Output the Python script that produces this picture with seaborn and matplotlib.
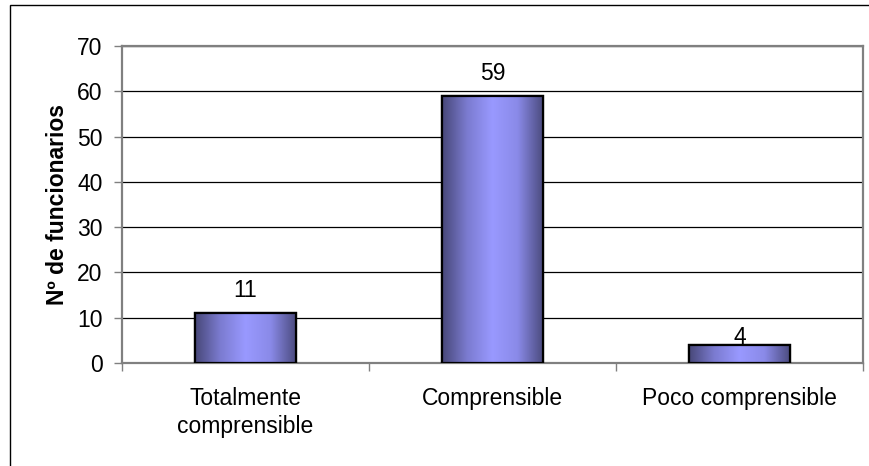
import numpy as np
import pandas as pd
import matplotlib
matplotlib.use("Agg")
import matplotlib.pyplot as plt
from matplotlib.colors import LinearSegmentedColormap
from matplotlib.patches import Rectangle
import seaborn as sns

categories = ["Totalmente\ncomprensible", "Comprensible", "Poco comprensible"]
values = [11, 59, 4]
y_ticks = [0, 10, 20, 30, 40, 50, 60, 70]
y_label = "Nº de funcionarios"

sns.set_theme(style="white")
plt.rcParams["font.family"] = ["Liberation Sans", "DejaVu Sans"]
plt.rcParams["text.color"] = "black"
plt.rcParams["axes.labelcolor"] = "black"
plt.rcParams["xtick.labelcolor"] = "black"
plt.rcParams["ytick.labelcolor"] = "black"

FS = 16.5

df = pd.DataFrame({"categoria": categories, "n": values})

fig = plt.figure(figsize=(8.7, 4.66), dpi=100)
ax = fig.add_axes([122 / 870, 103 / 466, 741 / 870, 317 / 466])

sns.barplot(data=df, x="categoria", y="n", ax=ax, width=0.405,
            color="#8888ee", edgecolor="black", linewidth=1.6, zorder=3)

# horizontal shading inside each bar
shade = LinearSegmentedColormap.from_list(
    "bar_shade", ["#484878", "#7b7bd0", "#9999ff", "#8a8ae8", "#4c4c80"])
grad = np.linspace(0, 1, 256).reshape(1, -1)
label_offsets_px = [25, 25, 10]
for p, off in zip(ax.patches, label_offsets_px):
    x0, w = p.get_x(), p.get_width()
    y0, h = p.get_y(), p.get_height()
    im = ax.imshow(grad, cmap=shade, aspect="auto", extent=[x0, x0 + w, y0, y0 + h],
                   zorder=3.5, interpolation="bicubic")
    im.set_clip_path(p)
    ax.add_patch(Rectangle((x0, y0), w, h, fill=False, edgecolor="black",
                           linewidth=1.6, zorder=4))
    ax.annotate(f"{int(h)}", (x0 + w / 2, y0 + h), xytext=(0, off * 0.72),
                textcoords="offset points", ha="center", va="center_baseline",
                fontsize=FS, color="black", zorder=5)

ax.set_xlim(-0.5, 2.5)
ax.set_ylim(0, 70)
ax.set_yticks(y_ticks)
ax.yaxis.grid(True, color="black", linewidth=0.9, zorder=0)
ax.set_axisbelow(True)

for s in ["left", "bottom", "right", "top"]:
    ax.spines[s].set_color("#808080")
    ax.spines[s].set_linewidth(1.6)

ax.set_xticks([-0.5, 0.5, 1.5, 2.5], minor=False)
ax.set_xticklabels([])
ax.set_xticks([0, 1, 2], minor=True)
ax.set_xticklabels(categories, minor=True, fontsize=FS, linespacing=1.3)
ax.tick_params(axis="x", which="major", direction="out", length=6, width=1,
               color="#808080", bottom=True)
ax.tick_params(axis="x", which="minor", length=0, pad=17)
ax.tick_params(axis="y", direction="out", length=6, width=1, color="#808080",
               left=True, labelsize=FS, pad=8)

ax.set_xlabel("")
ax.set_ylabel(y_label, fontsize=FS, fontweight="bold", labelpad=6)

# outer chart frame
fig.patches.append(Rectangle((10 / 870, -0.5), 2.0, 1.5 - 5 / 466,
                             transform=fig.transFigure, fill=False,
                             edgecolor="black", linewidth=1.0))

fig.savefig("out.png", dpi=100)
